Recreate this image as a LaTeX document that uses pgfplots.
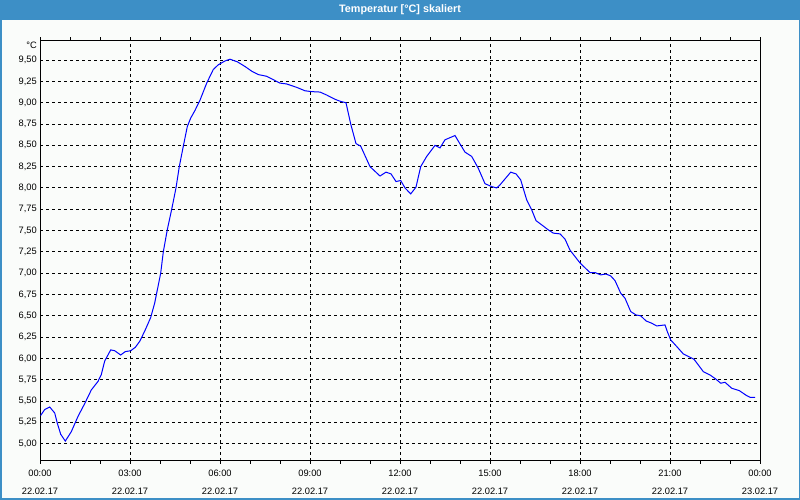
\documentclass[border=0pt]{standalone}
\usepackage{fontspec}
\setmainfont{Liberation Sans}
\usepackage{pgfplots}
\pgfplotsset{compat=1.18}
\definecolor{barblue}{RGB}{61,143,198}
\definecolor{bgc}{RGB}{250,252,250}
\definecolor{lineblue}{RGB}{0,0,255}
\begin{document}
\begin{tikzpicture}[x=1pt,y=1pt]
\fill[barblue] (0,0) rectangle (800,500);
\fill[bgc] (1.5,1.5) rectangle (798.5,480);
\node[text=white, font=\fontsize{10.8}{12}\selectfont\bfseries, inner sep=0pt] at (400,490) {Temperatur [°C] skaliert};
\begin{axis}[
  at={(40pt,39.3pt)}, anchor=south west,
  scale only axis, width=720pt, height=420.2pt,
  xmin=0, xmax=24, ymin=4.8, ymax=9.73,
  axis line style={black, line width=1pt},
  xtick={0,3,...,24}, minor xtick={0,1,...,24},
  xticklabels={{00:00\\22.02.17},{03:00\\22.02.17},{06:00\\22.02.17},{09:00\\22.02.17},{12:00\\22.02.17},{15:00\\22.02.17},{18:00\\22.02.17},{21:00\\22.02.17},{00:00\\23.02.17}},
  xticklabel style={font=\fontsize{9.3}{17.5}\selectfont, align=center, inner sep=0pt, yshift=-6.5pt},
  ytick={5,5.25,...,9.5},
  yticklabel style={font=\fontsize{9.3}{11}\selectfont, inner sep=0pt, xshift=0pt,
    /pgf/number format/.cd, fixed, fixed zerofill, precision=2, use comma, assume math mode=true},
  tick align=outside,
  x tick style={black, line width=1pt},
  major tick length=3pt, minor tick length=3pt,
  y tick style={draw=none},
  xmajorgrids, ymajorgrids,
  major grid style={black, line width=1pt, dash pattern=on 3pt off 3pt},
  axis background/.style={fill=bgc},
  clip=false,
]
\node[anchor=north east, inner sep=0pt, font=\fontsize{9.3}{11}\selectfont] at (rel axis cs:0,1) [xshift=-3pt, yshift=-1.2pt] {°C};
\addplot[lineblue, line width=1pt] coordinates {
(0.02,5.33) (0.157,5.40) (0.323,5.43) (0.49,5.36) (0.577,5.24) (0.69,5.11) (0.843,5.03)
(1.043,5.14) (1.267,5.32) (1.49,5.47) (1.71,5.63) (1.933,5.73) (2.043,5.81) (2.157,5.97)
(2.357,6.10) (2.49,6.09) (2.69,6.04) (2.843,6.08) (3.023,6.09) (3.177,6.13) (3.323,6.20)
(3.49,6.32) (3.69,6.48) (3.823,6.65) (4.023,7.00) (4.11,7.25) (4.243,7.51) (4.39,7.75)
(4.533,8.00) (4.643,8.25) (4.777,8.49) (4.91,8.72) (5.023,8.82) (5.167,8.91) (5.333,9.03)
(5.557,9.23) (5.777,9.39) (5.943,9.445) (6.167,9.49) (6.333,9.51) (6.577,9.48) (6.833,9.425)
(7.057,9.37) (7.277,9.33) (7.557,9.31) (7.777,9.27) (8.0,9.23) (8.223,9.22) (8.557,9.18)
(8.833,9.14) (9.057,9.13) (9.333,9.125) (9.557,9.09) (9.833,9.04) (10.023,9.015) (10.2,9.0)
(10.357,8.75) (10.533,8.52) (10.69,8.49) (11.0,8.25) (11.333,8.14) (11.533,8.185) (11.7,8.165)
(11.867,8.075) (12.023,8.087) (12.167,8.0) (12.357,7.93) (12.533,8.01) (12.69,8.25) (12.89,8.37)
(13.167,8.50) (13.333,8.47) (13.5,8.565) (13.833,8.615) (13.977,8.53) (14.167,8.42) (14.39,8.37)
(14.61,8.23) (14.833,8.05) (15.057,8.016) (15.223,8.0) (15.333,8.036) (15.69,8.185) (15.867,8.165)
(16.023,8.095) (16.223,7.86) (16.39,7.743) (16.533,7.617) (16.723,7.567) (16.943,7.508) (17.11,7.47)
(17.333,7.461) (17.5,7.40) (17.667,7.27) (18.0,7.12) (18.333,7.007) (18.5,7.007) (18.69,6.98)
(18.867,6.99) (19.023,6.968) (19.167,6.913) (19.357,6.765) (19.5,6.706) (19.69,6.55) (19.867,6.51)
(20.023,6.50) (20.2,6.44) (20.39,6.413) (20.557,6.381) (20.833,6.393) (20.91,6.315) (21.023,6.217)
(21.223,6.14) (21.443,6.053) (21.667,6.014) (21.8,5.99) (22.11,5.845) (22.333,5.806) (22.533,5.756)
(22.69,5.709) (22.833,5.72) (23.057,5.65) (23.31,5.622) (23.557,5.563) (23.667,5.544) (23.833,5.544)
};
\end{axis}
\end{tikzpicture}
\end{document}
